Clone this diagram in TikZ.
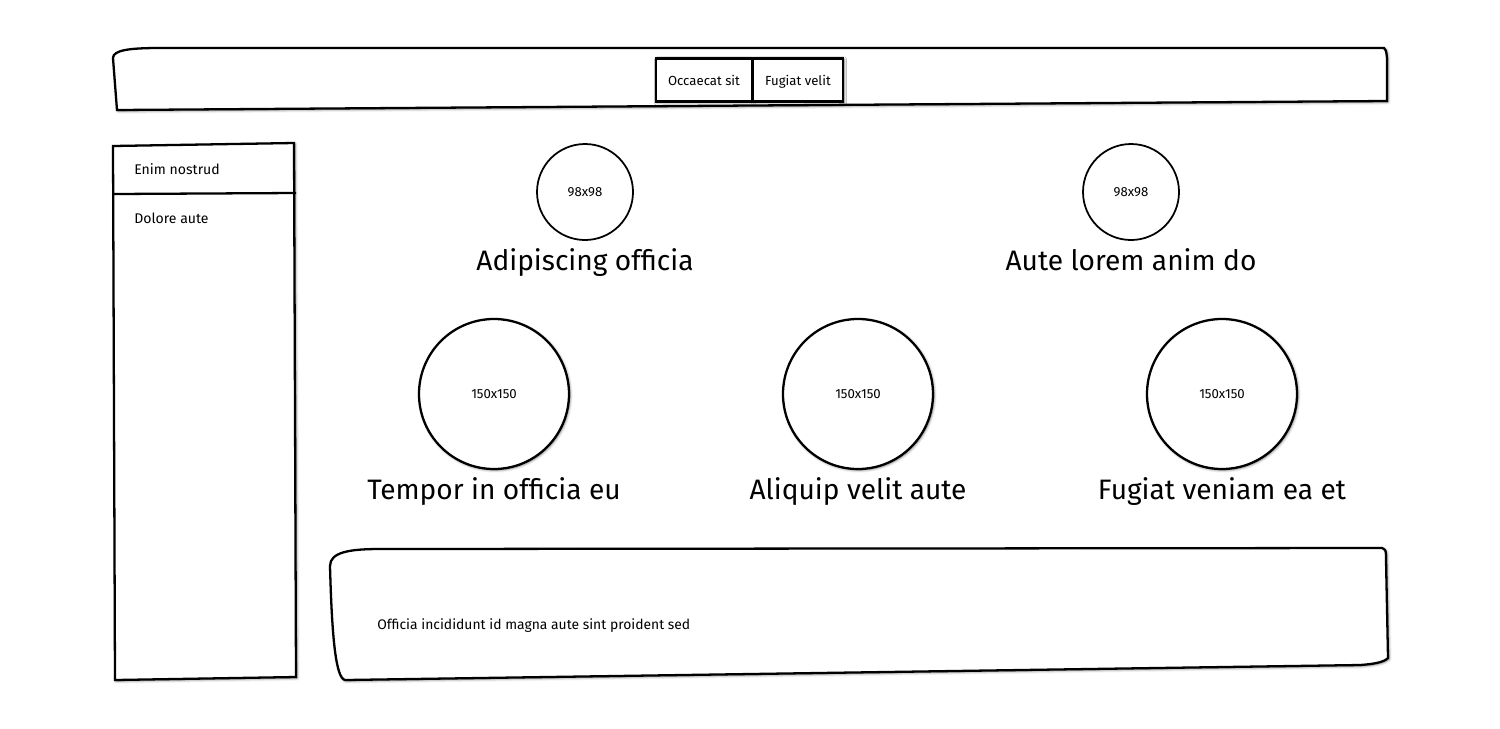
\documentclass[tikz,border=0pt]{standalone}
\usepackage{fontspec}
\setmainfont{Fira Sans}
\usetikzlibrary{shadows.blur}

\begin{document}
\begin{tikzpicture}[x=0.02cm,y=-0.02cm,
	sketch/.style={line width=1.3pt, fill=white, blur shadow={shadow xshift=0.6pt, shadow yshift=-0.6pt, shadow blur radius=1.5pt, shadow opacity=60}},
	smallpic/.style={circle, draw, line width=1pt, minimum size=96*0.02cm, inner sep=0pt, font=\fontsize{7.5}{9}\selectfont},
	bigpic/.style={sketch, draw, circle, minimum size=150*0.02cm, inner sep=0pt, font=\fontsize{7.5}{9}\selectfont},
	caption/.style={anchor=base, font=\fontsize{16}{19}\selectfont, inner sep=0pt},
	button/.style={sketch, draw, minimum width=96*0.02cm, minimum height=43*0.02cm, inner sep=0pt,
		text height=1.6ex, text depth=0.4ex, font=\fontsize{7.5}{9}\selectfont},
	menutext/.style={anchor=west, inner sep=0pt, font=\fontsize{8}{10}\selectfont}]
	
	\useasboundingbox (0,0) rectangle (1500,728);
	
	% header bar
	\draw[sketch] (117,110) -- (113,58) .. controls (113,50) and (130,48) .. (160,48)
		-- (1384,48) .. controls (1386,50) .. (1387,58) -- (1387,101) -- cycle;
	\node[button] (occaecat) at (704,80) {Occaecat sit};
	\node[button, minimum width=90*0.02cm] (fugiat) at (798,80) {Fugiat velit};
	
	% side menu
	\draw[sketch] (113,146) -- (294,143) -- (296,677) -- (115,680) -- cycle;
	\coordinate (menuL) at (113,194);
	\coordinate (menuR) at (296,193);
	\draw[line width=1.3pt] (menuL) -- (menuR);
	\node[menutext] (enim) at (134,169) {Enim nostrud};
	\node[menutext] (dolore) at (134,218) {Dolore aute};
	
	% small pictures
	\node[smallpic] (picA) at (585,192) {98x98};
	\node[smallpic] (picB) at (1131,192) {98x98};
	\node[caption] (capA) at (585,270) {Adipiscing officia};
	\node[caption] (capB) at (1131,270) {Aute lorem anim do};
	
	% big pictures
	\node[bigpic] (picC) at (494,394) {150x150};
	\node[bigpic] (picD) at (858,394) {150x150};
	\node[bigpic] (picE) at (1222,394) {150x150};
	\node[caption] (capC) at (494,499) {Tempor in officia eu};
	\node[caption] (capD) at (858,499) {Aliquip velit aute};
	\node[caption] (capE) at (1222,499) {Fugiat veniam ea et};
	
	% footer text block
	\draw[sketch] (330,566) .. controls (330,552) and (350,549) .. (380,549)
		-- (1382,548) .. controls (1386,550) .. (1386,560) -- (1388,658)
		.. controls (1384,662) and (1375,664) .. (1360,665)
		-- (345,680) .. controls (336,678) and (332,640) .. cycle;
	\node[menutext, font=\fontsize{7.9}{9.5}\selectfont] (officia) at (377,626) {Officia incididunt id magna aute sint proident sed};
	
\end{tikzpicture}
\end{document}
